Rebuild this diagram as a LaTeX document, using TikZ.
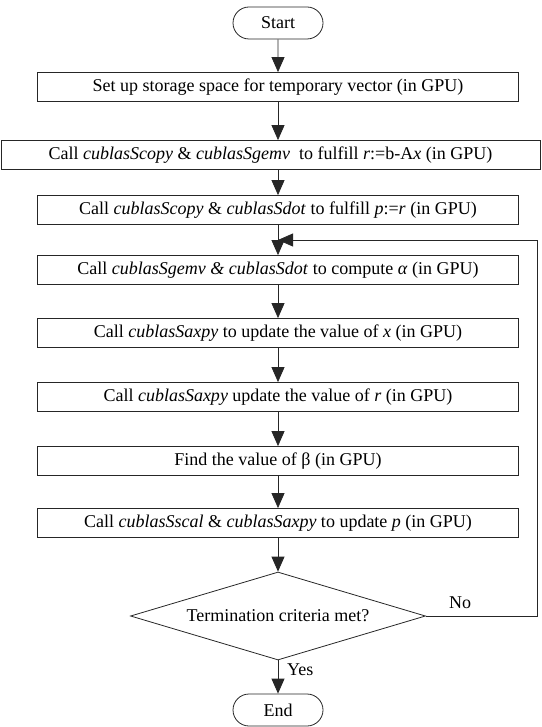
\documentclass[tikz,border=0pt]{standalone}
\usepackage{fontspec}
\setmainfont{Liberation Serif}
\usetikzlibrary{arrows.meta,shapes.geometric,shapes.misc}
\begin{document}
\begin{tikzpicture}[x=1pt,y=-1pt,
  line/.style={draw=black!85,line width=0.8pt},
  arr/.style={line,-{Triangle[length=15pt,width=13pt]}},
  txt/.style={font=\fontsize{18}{20}\selectfont},
  stepbox/.style={draw=black!85,line width=0.8pt,rectangle,minimum width=481pt,minimum height=29pt,inner sep=0pt,txt},
  term/.style={draw=black!85,line width=0.8pt,rounded rectangle,minimum width=90pt,minimum height=32pt,inner sep=0pt,txt},
  decis/.style={draw=black!85,line width=0.8pt,diamond,aspect=3.35,minimum width=295pt,minimum height=88pt,inner sep=0pt,txt},
  lbl/.style={txt,inner sep=0pt}]
\useasboundingbox (0,0) rectangle (541,727);
\node[term] (start) at (278,23) {Start};
\node[stepbox] (b1) at (278,87) {Set up storage space for temporary vector (in GPU)};
\node[stepbox,minimum width=539pt] (b2) at (270.5,155) {Call \textit{cublasScopy} \& \textit{cublasSgemv}\ \ to fulfill \textit{r}:=b-A\textit{x} (in GPU)};
\node[stepbox] (b3) at (278,210) {Call \textit{cublasScopy} \& \textit{cublasSdot} to fulfill \textit{p}:=\textit{r} (in GPU)};
\node[stepbox] (b4) at (278,270) {Call \textit{cublasSgemv \& cublasSdot} to compute \textit{α} (in GPU)};
\node[stepbox] (b5) at (278,333) {Call \textit{cublasSaxpy} to update the value of \textit{x} (in GPU)};
\node[stepbox] (b6) at (278,397) {Call \textit{cublasSaxpy} update the value of \textit{r} (in GPU)};
\node[stepbox] (b7) at (278,461) {Find the value of β (in GPU)};
\node[stepbox] (b8) at (278,523) {Call \textit{cublasSscal} \& \textit{cublasSaxpy} to update \textit{p} (in GPU)};
\node[decis] (dec) at (278,616) {Termination criteria met?};
\node[term] (end) at (278,710) {End};
\node[lbl] (no) at (460,603) {No};
\node[lbl,anchor=west] (yes) at (287,670) {Yes};
\coordinate (loopr) at (537,240);
\coordinate (join) at (278,240);
\draw[arr] (start) -- (b1);
\draw[arr] (b1.south) -- (b1.south |- b2.north);
\draw[arr] (b1.south |- b2.south) -- (b3.north);
\draw[arr] (b3) -- (b4);
\draw[arr] (b4) -- (b5);
\draw[arr] (b5) -- (b6);
\draw[arr] (b6) -- (b7);
\draw[arr] (b7) -- (b8);
\draw[arr] (b8) -- (dec);
\draw[arr] (dec) -- (end);
\draw[arr] (dec.east) -| (loopr) -- (join);
\end{tikzpicture}
\end{document}
